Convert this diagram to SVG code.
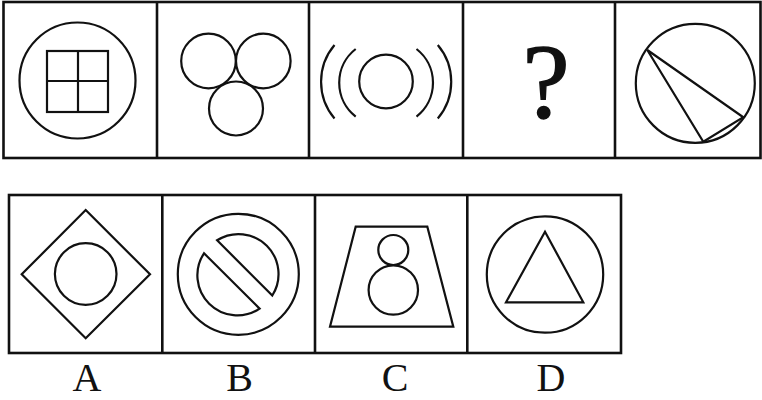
<svg xmlns="http://www.w3.org/2000/svg" width="762" height="400" viewBox="0 0 762 400">
<style>
.s{fill:none;stroke:#111;stroke-width:2.2;stroke-linejoin:miter}
.b{fill:none;stroke:#111;stroke-width:2.6}
.lbl{font-family:"Liberation Serif","Times New Roman",serif;font-size:40px;fill:#111;text-anchor:middle}
</style>
<rect width="762" height="400" fill="#fff"/>
<g id="top-frame">
<rect class="b" x="3.5" y="2" width="757" height="156"/>
<line class="b" x1="157" y1="2" x2="157" y2="158"/>
<line class="b" x1="309" y1="2" x2="309" y2="158"/>
<line class="b" x1="463" y1="2" x2="463" y2="158"/>
<line class="b" x1="615" y1="2" x2="615" y2="158"/>
</g>
<g id="fig1">
<circle class="s" cx="77.5" cy="80.5" r="58"/>
<rect class="s" x="47" y="51" width="61" height="61"/>
<line class="s" x1="78" y1="51" x2="78" y2="112"/>
<line class="s" x1="47" y1="81" x2="108" y2="81"/>
</g>
<g id="fig2">
<circle class="s" cx="208.5" cy="61" r="27.3"/>
<circle class="s" cx="263.3" cy="61" r="27.3"/>
<circle class="s" cx="236" cy="108.5" r="27"/>
</g>
<g id="fig3">
<circle class="s" cx="386" cy="81.5" r="26.8"/>
<path class="s" d="M334.5 45 A57 57 0 0 0 334.5 118.5"/>
<path class="s" d="M355.7 49 A43 43 0 0 0 355.7 116.7"/>
<path class="s" d="M416.5 49 A43 43 0 0 1 416.5 116.7"/>
<path class="s" d="M437.8 45 A57 57 0 0 1 437.8 118.5"/>
</g>
<g id="fig4">
<text x="546" y="118" style="font-family:'Liberation Serif','Times New Roman',serif;font-size:106px;fill:#111;stroke:#111;stroke-width:1.4;text-anchor:middle">?</text>
</g>
<g id="fig5">
<circle class="s" cx="695.3" cy="83.3" r="59.5"/>
<polygon class="s" points="647.3,50 743.3,117.3 703.3,141.7"/>
</g>
<g id="bottom-frame">
<rect class="b" x="9" y="195" width="612" height="158"/>
<line class="b" x1="162.3" y1="195" x2="162.3" y2="353"/>
<line class="b" x1="315" y1="195" x2="315" y2="353"/>
<line class="b" x1="467.3" y1="195" x2="467.3" y2="353"/>
</g>
<g id="optA">
<polygon class="s" points="85.7,210 150,274.3 85.7,338.3 21.7,274.3"/>
<circle class="s" cx="85.7" cy="274" r="30.8"/>
</g>
<g id="optB">
<circle class="s" cx="238.3" cy="274.3" r="60.5"/>
<path class="s" d="M217.1 240.3 A40 40 0 0 1 272.3 295.5 Z"/>
<path class="s" d="M204 253.3 A40 40 0 0 0 259.6 308.6 Z"/>
</g>
<g id="optC">
<polygon class="s" points="355.7,226.7 427.3,226.7 453.3,326.7 330,326.7"/>
<circle class="s" cx="393.3" cy="250" r="15"/>
<circle class="s" cx="393.3" cy="290" r="24.7"/>
</g>
<g id="optD">
<circle class="s" cx="545" cy="274.5" r="58.2"/>
<polygon class="s" points="545,231.7 583.3,302.3 506,302.3"/>
</g>
<g id="labels">
<text class="lbl" x="87" y="391">A</text>
<text class="lbl" x="239.5" y="391">B</text>
<text class="lbl" x="395" y="391">C</text>
<text class="lbl" x="551" y="391">D</text>
</g>
</svg>
